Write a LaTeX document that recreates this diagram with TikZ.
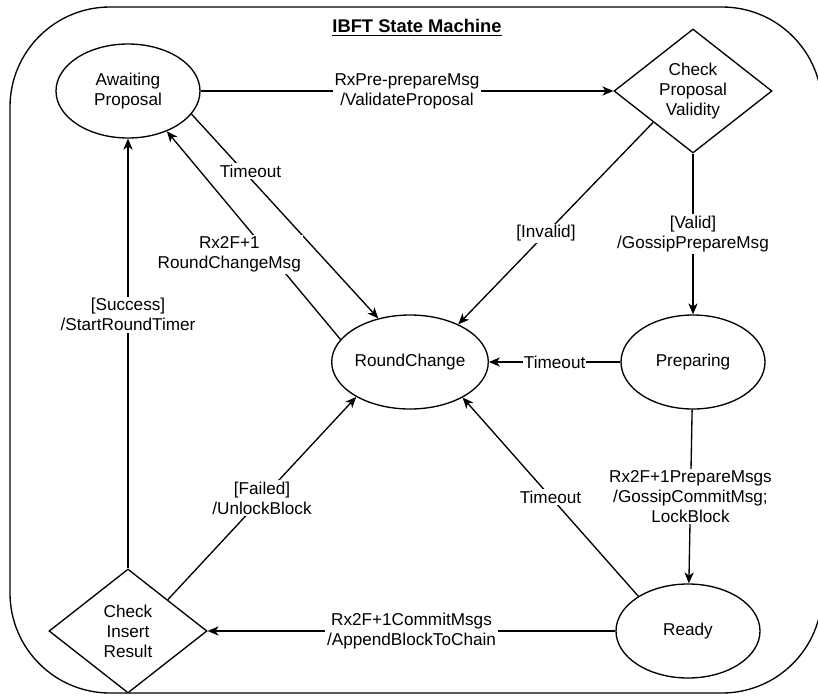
\documentclass[tikz,border=0pt]{standalone}
\usepackage{fontspec}
\setmainfont{Liberation Sans}
\usetikzlibrary{arrows.meta, shapes.geometric}
\newcommand{\lblfont}{\fontsize{10.3}{12}\selectfont}
\tikzset{
  state/.style={ellipse, draw, line width=0.8pt, minimum width=86.4pt,
                minimum height=56.4pt, inner sep=0pt, align=center, font=\lblfont},
  choice/.style={diamond, draw, line width=0.8pt, aspect=1.27, minimum width=94.8pt,
                 minimum height=74.4pt, inner sep=0pt, align=center, font=\lblfont},
  lbl/.style={fill=white, inner sep=1pt, align=center, font=\lblfont},
  arr/.style={-{Stealth[length=6.5pt, width=5.5pt, inset=1.8pt]}, line width=0.8pt},
}

\begin{document}
\begin{tikzpicture}[x=0.6pt, y=-0.6pt]
\clip (0,0) rectangle (818,695);
\draw[line width=0.8pt, rounded corners=60pt] (10,7) rectangle (822,693);

\node[font=\fontsize{11}{13}\selectfont\bfseries] (title) at (417,28)
  {\underline{IBFT State Machine}};

% states
\node[state]  (ap)  at (128,91)  {Awaiting\\Proposal};
\node[choice] (cpv) at (693,91)  {Check\\Proposal\\Validity};
\node[state]  (rc)  at (410,362) {RoundChange};
\node[state]  (pr)  at (693,362) {Preparing};
\node[state]  (rd)  at (688,631) {Ready};
\node[choice] (cir) at (128,631) {Check\\Insert\\Result};

% transitions
\draw[arr] (ap) -- (cpv) node[lbl, midway] {RxPre-prepareMsg\\/ValidateProposal};
\draw[arr] (cpv.south west) -- (rc.38) node[lbl, pos=0.55] {[Invalid]};
\draw[arr] (ap.-20) -- (rc.126) node[lbl, pos=0.28, xshift=4pt] {Timeout};
\draw[arr] (rc.162) -- (ap.-46)
  node[lbl, pos=0.41, xshift=-24pt] {Rx2F+1\\RoundChangeMsg};
\draw[arr] (cpv) -- (pr) node[lbl, midway] {[Valid]\\/GossipPrepareMsg};
\draw[arr] (pr) -- (rc) node[lbl, midway, inner sep=0.5pt] {Timeout};
\draw[arr] (pr) -- (rd)
  node[lbl, midway] {Rx2F+1PrepareMsgs\\/GossipCommitMsg;\\LockBlock};
\draw[arr] (rd.145) -- (rc.-34) node[lbl, midway] {Timeout};
\draw[arr] (rd) -- (cir) node[lbl, midway] {Rx2F+1CommitMsgs\\/AppendBlockToChain};
\draw[arr] (cir.north east) -- (rc.-147) node[lbl, midway] {[Failed]\\/UnlockBlock};
\draw[arr] (cir) -- (ap) node[lbl, pos=0.59] {[Success]\\/StartRoundTimer};
\end{tikzpicture}
\end{document}
